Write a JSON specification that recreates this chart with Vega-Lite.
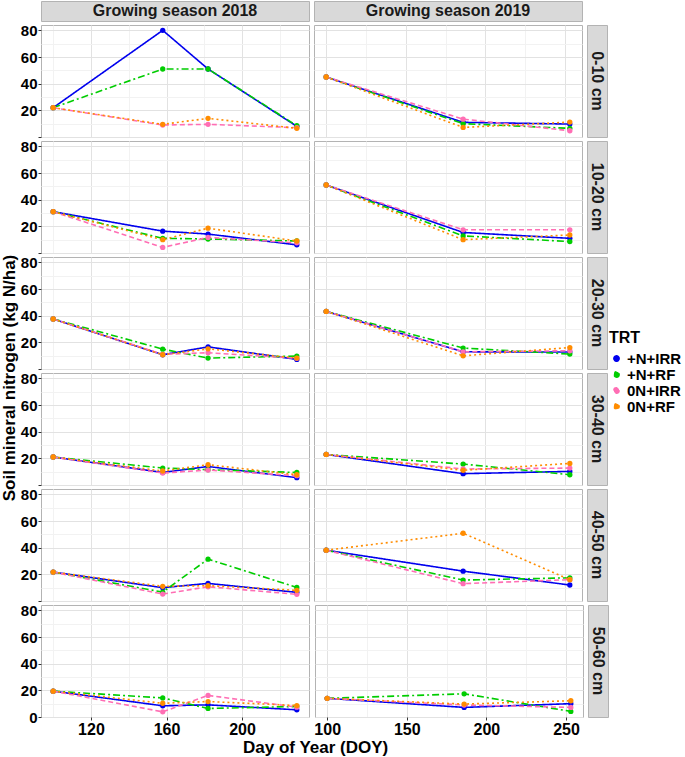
{
"$schema":"https://vega.github.io/schema/vega-lite/v6.json",
"padding":{"left":0,"right":1,"top":0,"bottom":0},
"background":"white",
"title":{"text":"Soil mineral nitrogen (kg N/ha)","orient":"left","anchor":"middle","fontSize":17,"font":"Liberation Sans","fontWeight":"bold","color":"#000000","offset":1},
"data":{"values":[
{"s":"2018","d":"0-10 cm","t":"+N+IRR","x":100,"n":22},{"s":"2018","d":"0-10 cm","t":"+N+IRR","x":158,"n":80},{"s":"2018","d":"0-10 cm","t":"+N+IRR","x":182,"n":51},{"s":"2018","d":"0-10 cm","t":"+N+IRR","x":229,"n":8},
{"s":"2018","d":"0-10 cm","t":"+N+RF","x":100,"n":22},{"s":"2018","d":"0-10 cm","t":"+N+RF","x":158,"n":51},{"s":"2018","d":"0-10 cm","t":"+N+RF","x":182,"n":51},{"s":"2018","d":"0-10 cm","t":"+N+RF","x":229,"n":8.5},
{"s":"2018","d":"0-10 cm","t":"0N+IRR","x":100,"n":22},{"s":"2018","d":"0-10 cm","t":"0N+IRR","x":158,"n":9},{"s":"2018","d":"0-10 cm","t":"0N+IRR","x":182,"n":9.5},{"s":"2018","d":"0-10 cm","t":"0N+IRR","x":229,"n":7},
{"s":"2018","d":"0-10 cm","t":"0N+RF","x":100,"n":22},{"s":"2018","d":"0-10 cm","t":"0N+RF","x":158,"n":9.5},{"s":"2018","d":"0-10 cm","t":"0N+RF","x":182,"n":14},{"s":"2018","d":"0-10 cm","t":"0N+RF","x":229,"n":6.5},
{"s":"2019","d":"0-10 cm","t":"+N+IRR","x":100,"n":45},{"s":"2019","d":"0-10 cm","t":"+N+IRR","x":186,"n":11},{"s":"2019","d":"0-10 cm","t":"+N+IRR","x":253,"n":9.7},
{"s":"2019","d":"0-10 cm","t":"+N+RF","x":100,"n":45},{"s":"2019","d":"0-10 cm","t":"+N+RF","x":186,"n":10},{"s":"2019","d":"0-10 cm","t":"+N+RF","x":253,"n":6.5},
{"s":"2019","d":"0-10 cm","t":"0N+IRR","x":100,"n":45},{"s":"2019","d":"0-10 cm","t":"0N+IRR","x":186,"n":13.4},{"s":"2019","d":"0-10 cm","t":"0N+IRR","x":253,"n":4.7},
{"s":"2019","d":"0-10 cm","t":"0N+RF","x":100,"n":45},{"s":"2019","d":"0-10 cm","t":"0N+RF","x":186,"n":7.2},{"s":"2019","d":"0-10 cm","t":"0N+RF","x":253,"n":11.2},

{"s":"2018","d":"10-20 cm","t":"+N+IRR","x":100,"n":31},{"s":"2018","d":"10-20 cm","t":"+N+IRR","x":158,"n":16.4},{"s":"2018","d":"10-20 cm","t":"+N+IRR","x":182,"n":14.2},{"s":"2018","d":"10-20 cm","t":"+N+IRR","x":229,"n":6.1},
{"s":"2018","d":"10-20 cm","t":"+N+RF","x":100,"n":31},{"s":"2018","d":"10-20 cm","t":"+N+RF","x":158,"n":11},{"s":"2018","d":"10-20 cm","t":"+N+RF","x":182,"n":10.5},{"s":"2018","d":"10-20 cm","t":"+N+RF","x":229,"n":9},
{"s":"2018","d":"10-20 cm","t":"0N+IRR","x":100,"n":31},{"s":"2018","d":"10-20 cm","t":"0N+IRR","x":158,"n":4.2},{"s":"2018","d":"10-20 cm","t":"0N+IRR","x":182,"n":11.7},{"s":"2018","d":"10-20 cm","t":"0N+IRR","x":229,"n":7.6},
{"s":"2018","d":"10-20 cm","t":"0N+RF","x":100,"n":31},{"s":"2018","d":"10-20 cm","t":"0N+RF","x":158,"n":10},{"s":"2018","d":"10-20 cm","t":"0N+RF","x":182,"n":18.6},{"s":"2018","d":"10-20 cm","t":"0N+RF","x":229,"n":9},
{"s":"2019","d":"10-20 cm","t":"+N+IRR","x":100,"n":51},{"s":"2019","d":"10-20 cm","t":"+N+IRR","x":186,"n":15.4},{"s":"2019","d":"10-20 cm","t":"+N+IRR","x":253,"n":11},
{"s":"2019","d":"10-20 cm","t":"+N+RF","x":100,"n":51},{"s":"2019","d":"10-20 cm","t":"+N+RF","x":186,"n":12.8},{"s":"2019","d":"10-20 cm","t":"+N+RF","x":253,"n":8.6},
{"s":"2019","d":"10-20 cm","t":"0N+IRR","x":100,"n":51},{"s":"2019","d":"10-20 cm","t":"0N+IRR","x":186,"n":17.4},{"s":"2019","d":"10-20 cm","t":"0N+IRR","x":253,"n":17.4},
{"s":"2019","d":"10-20 cm","t":"0N+RF","x":100,"n":51},{"s":"2019","d":"10-20 cm","t":"0N+RF","x":186,"n":10},{"s":"2019","d":"10-20 cm","t":"0N+RF","x":253,"n":13.5},

{"s":"2018","d":"20-30 cm","t":"+N+IRR","x":100,"n":37.5},{"s":"2018","d":"20-30 cm","t":"+N+IRR","x":158,"n":10.7},{"s":"2018","d":"20-30 cm","t":"+N+IRR","x":182,"n":16.6},{"s":"2018","d":"20-30 cm","t":"+N+IRR","x":229,"n":7.2},
{"s":"2018","d":"20-30 cm","t":"+N+RF","x":100,"n":37.5},{"s":"2018","d":"20-30 cm","t":"+N+RF","x":158,"n":14.9},{"s":"2018","d":"20-30 cm","t":"+N+RF","x":182,"n":8.2},{"s":"2018","d":"20-30 cm","t":"+N+RF","x":229,"n":9.7},
{"s":"2018","d":"20-30 cm","t":"0N+IRR","x":100,"n":37.5},{"s":"2018","d":"20-30 cm","t":"0N+IRR","x":158,"n":11},{"s":"2018","d":"20-30 cm","t":"0N+IRR","x":182,"n":12.2},{"s":"2018","d":"20-30 cm","t":"0N+IRR","x":229,"n":8},
{"s":"2018","d":"20-30 cm","t":"0N+RF","x":100,"n":37.5},{"s":"2018","d":"20-30 cm","t":"0N+RF","x":158,"n":10.7},{"s":"2018","d":"20-30 cm","t":"0N+RF","x":182,"n":15.1},{"s":"2018","d":"20-30 cm","t":"0N+RF","x":229,"n":8.2},
{"s":"2019","d":"20-30 cm","t":"+N+IRR","x":100,"n":43.2},{"s":"2019","d":"20-30 cm","t":"+N+IRR","x":186,"n":12.9},{"s":"2019","d":"20-30 cm","t":"+N+IRR","x":253,"n":12.7},
{"s":"2019","d":"20-30 cm","t":"+N+RF","x":100,"n":43.2},{"s":"2019","d":"20-30 cm","t":"+N+RF","x":186,"n":15.7},{"s":"2019","d":"20-30 cm","t":"+N+RF","x":253,"n":11.2},
{"s":"2019","d":"20-30 cm","t":"0N+IRR","x":100,"n":43.2},{"s":"2019","d":"20-30 cm","t":"0N+IRR","x":186,"n":12.9},{"s":"2019","d":"20-30 cm","t":"0N+IRR","x":253,"n":13.7},
{"s":"2019","d":"20-30 cm","t":"0N+RF","x":100,"n":43.2},{"s":"2019","d":"20-30 cm","t":"0N+RF","x":186,"n":9.9},{"s":"2019","d":"20-30 cm","t":"0N+RF","x":253,"n":16.1},

{"s":"2018","d":"30-40 cm","t":"+N+IRR","x":100,"n":21},{"s":"2018","d":"30-40 cm","t":"+N+IRR","x":158,"n":9.4},{"s":"2018","d":"30-40 cm","t":"+N+IRR","x":182,"n":13.9},{"s":"2018","d":"30-40 cm","t":"+N+IRR","x":229,"n":5.5},
{"s":"2018","d":"30-40 cm","t":"+N+RF","x":100,"n":21},{"s":"2018","d":"30-40 cm","t":"+N+RF","x":158,"n":12.7},{"s":"2018","d":"30-40 cm","t":"+N+RF","x":182,"n":11.5},{"s":"2018","d":"30-40 cm","t":"+N+RF","x":229,"n":9.4},
{"s":"2018","d":"30-40 cm","t":"0N+IRR","x":100,"n":21},{"s":"2018","d":"30-40 cm","t":"0N+IRR","x":158,"n":9},{"s":"2018","d":"30-40 cm","t":"0N+IRR","x":182,"n":11.2},{"s":"2018","d":"30-40 cm","t":"0N+IRR","x":229,"n":7},
{"s":"2018","d":"30-40 cm","t":"0N+RF","x":100,"n":21},{"s":"2018","d":"30-40 cm","t":"0N+RF","x":158,"n":10.5},{"s":"2018","d":"30-40 cm","t":"0N+RF","x":182,"n":15.2},{"s":"2018","d":"30-40 cm","t":"0N+RF","x":229,"n":7.7},
{"s":"2019","d":"30-40 cm","t":"+N+IRR","x":100,"n":22.9},{"s":"2019","d":"30-40 cm","t":"+N+IRR","x":186,"n":8.5},{"s":"2019","d":"30-40 cm","t":"+N+IRR","x":253,"n":10.2},
{"s":"2019","d":"30-40 cm","t":"+N+RF","x":100,"n":22.9},{"s":"2019","d":"30-40 cm","t":"+N+RF","x":186,"n":15.7},{"s":"2019","d":"30-40 cm","t":"+N+RF","x":253,"n":7.7},
{"s":"2019","d":"30-40 cm","t":"0N+IRR","x":100,"n":22.9},{"s":"2019","d":"30-40 cm","t":"0N+IRR","x":186,"n":12},{"s":"2019","d":"30-40 cm","t":"0N+IRR","x":253,"n":12.7},
{"s":"2019","d":"30-40 cm","t":"0N+RF","x":100,"n":22.9},{"s":"2019","d":"30-40 cm","t":"0N+RF","x":186,"n":11},{"s":"2019","d":"30-40 cm","t":"0N+RF","x":253,"n":16.2},

{"s":"2018","d":"40-50 cm","t":"+N+IRR","x":100,"n":21.7},{"s":"2018","d":"40-50 cm","t":"+N+IRR","x":158,"n":10},{"s":"2018","d":"40-50 cm","t":"+N+IRR","x":182,"n":13.2},{"s":"2018","d":"40-50 cm","t":"+N+IRR","x":229,"n":6.5},
{"s":"2018","d":"40-50 cm","t":"+N+RF","x":100,"n":21.7},{"s":"2018","d":"40-50 cm","t":"+N+RF","x":158,"n":6.7},{"s":"2018","d":"40-50 cm","t":"+N+RF","x":182,"n":31.4},{"s":"2018","d":"40-50 cm","t":"+N+RF","x":229,"n":10.2},
{"s":"2018","d":"40-50 cm","t":"0N+IRR","x":100,"n":21.7},{"s":"2018","d":"40-50 cm","t":"0N+IRR","x":158,"n":5.2},{"s":"2018","d":"40-50 cm","t":"0N+IRR","x":182,"n":10.7},{"s":"2018","d":"40-50 cm","t":"0N+IRR","x":229,"n":5},
{"s":"2018","d":"40-50 cm","t":"0N+RF","x":100,"n":21.7},{"s":"2018","d":"40-50 cm","t":"0N+RF","x":158,"n":11},{"s":"2018","d":"40-50 cm","t":"0N+RF","x":182,"n":11.5},{"s":"2018","d":"40-50 cm","t":"0N+RF","x":229,"n":8},
{"s":"2019","d":"40-50 cm","t":"+N+IRR","x":100,"n":38.1},{"s":"2019","d":"40-50 cm","t":"+N+IRR","x":186,"n":22.4},{"s":"2019","d":"40-50 cm","t":"+N+IRR","x":253,"n":12},
{"s":"2019","d":"40-50 cm","t":"+N+RF","x":100,"n":38.1},{"s":"2019","d":"40-50 cm","t":"+N+RF","x":186,"n":15.7},{"s":"2019","d":"40-50 cm","t":"+N+RF","x":253,"n":17.4},
{"s":"2019","d":"40-50 cm","t":"0N+IRR","x":100,"n":38.1},{"s":"2019","d":"40-50 cm","t":"0N+IRR","x":186,"n":13},{"s":"2019","d":"40-50 cm","t":"0N+IRR","x":253,"n":16},
{"s":"2019","d":"40-50 cm","t":"0N+RF","x":100,"n":38.1},{"s":"2019","d":"40-50 cm","t":"0N+RF","x":186,"n":50.8},{"s":"2019","d":"40-50 cm","t":"0N+RF","x":253,"n":16},

{"s":"2018","d":"50-60 cm","t":"+N+IRR","x":100,"n":19.4},{"s":"2018","d":"50-60 cm","t":"+N+IRR","x":158,"n":8.4},{"s":"2018","d":"50-60 cm","t":"+N+IRR","x":182,"n":9.1},{"s":"2018","d":"50-60 cm","t":"+N+IRR","x":229,"n":5.4},
{"s":"2018","d":"50-60 cm","t":"+N+RF","x":100,"n":19.4},{"s":"2018","d":"50-60 cm","t":"+N+RF","x":158,"n":14.3},{"s":"2018","d":"50-60 cm","t":"+N+RF","x":182,"n":6.4},{"s":"2018","d":"50-60 cm","t":"+N+RF","x":229,"n":7.9},
{"s":"2018","d":"50-60 cm","t":"0N+IRR","x":100,"n":19.4},{"s":"2018","d":"50-60 cm","t":"0N+IRR","x":158,"n":3.9},{"s":"2018","d":"50-60 cm","t":"0N+IRR","x":182,"n":16.2},{"s":"2018","d":"50-60 cm","t":"0N+IRR","x":229,"n":7.4},
{"s":"2018","d":"50-60 cm","t":"0N+RF","x":100,"n":19.4},{"s":"2018","d":"50-60 cm","t":"0N+RF","x":158,"n":10.3},{"s":"2018","d":"50-60 cm","t":"0N+RF","x":182,"n":11.6},{"s":"2018","d":"50-60 cm","t":"0N+RF","x":229,"n":8.6},
{"s":"2019","d":"50-60 cm","t":"+N+IRR","x":100,"n":14},{"s":"2019","d":"50-60 cm","t":"+N+IRR","x":186,"n":7.2},{"s":"2019","d":"50-60 cm","t":"+N+IRR","x":253,"n":10},
{"s":"2019","d":"50-60 cm","t":"+N+RF","x":100,"n":14},{"s":"2019","d":"50-60 cm","t":"+N+RF","x":186,"n":17.4},{"s":"2019","d":"50-60 cm","t":"+N+RF","x":253,"n":4.2},
{"s":"2019","d":"50-60 cm","t":"0N+IRR","x":100,"n":14},{"s":"2019","d":"50-60 cm","t":"0N+IRR","x":186,"n":9},{"s":"2019","d":"50-60 cm","t":"0N+IRR","x":253,"n":7.2},
{"s":"2019","d":"50-60 cm","t":"0N+RF","x":100,"n":14},{"s":"2019","d":"50-60 cm","t":"0N+RF","x":186,"n":9.7},{"s":"2019","d":"50-60 cm","t":"0N+RF","x":253,"n":12.2}
]},
"spacing":0,
"vconcat":[
{"hconcat":[
 {"width":268,"height":20,"data":{"values":[{"lab":"Growing season 2018"}]},"mark":{"type":"text","font":"Liberation Sans","fontSize":16,"fontWeight":"bold","color":"#1a1a1a"},"encoding":{"text":{"field":"lab","type":"nominal"},"y":{"datum":42,"type":"quantitative","scale":{"domain":[0,84],"nice":false,"zero":false},"axis":{"values":[42],"labelExpr":"'80'","labelColor":"transparent","tickColor":"transparent","grid":false,"title":null}}},"view":{"fill":"#d9d9d9","stroke":"#b3b3b3"}},
 {"width":268,"height":20,"data":{"values":[{"lab":"Growing season 2019"}]},"mark":{"type":"text","font":"Liberation Sans","fontSize":16,"fontWeight":"bold","color":"#1a1a1a"},"encoding":{"text":{"field":"lab","type":"nominal"}},"view":{"fill":"#d9d9d9","stroke":"#b3b3b3"}}
],"spacing":3},

{"hconcat":[
 {"width":268,"height":112,"transform":[{"filter":"datum.s==='2018' && datum.d==='0-10 cm'"}],"encoding":{"x":{"field":"x","type":"quantitative","scale":{"domain":[93.55,235.45],"nice":false,"zero":false},"axis":{"values":[100,120,140,160,180,200,220],"title":null,"labels":false,"ticks":false,"minExtent":0,"maxExtent":0,"gridColor":{"condition":{"test":"datum.value % 40 === 0","value":"#e2e2e2"},"value":"#f2f2f2"}}},"y":{"field":"n","type":"quantitative","scale":{"domain":[0,84],"nice":false,"zero":false},"axis":{"values":[0,10,20,30,40,50,60,70,80],"title":null,"labelExpr":"datum.value % 20 === 0 && datum.value > 0 ? datum.label : ''","tickColor":{"condition":{"test":"datum.value % 20 === 0","value":"#333333"},"value":"transparent"},"gridColor":{"condition":{"test":"datum.value % 20 === 0","value":"#e2e2e2"},"value":"#f2f2f2"}}},"color":{"field":"t","type":"nominal","scale":{"domain":["+N+IRR","+N+RF","0N+IRR","0N+RF"],"range":["#0000EE","#00CD00","#FF6EB4","#FF8C00"]},"legend":{"title":"TRT","orient":"none","legendX":568,"legendY":329,"symbolType":"circle"}}},"layer":[{"mark":{"type":"line","strokeWidth":1.6},"encoding":{"strokeDash":{"field":"t","type":"nominal","scale":{"domain":["+N+IRR","+N+RF","0N+IRR","0N+RF"],"range":[[1,0],[7,3,2,3],[5,3],[2,3]]},"legend":null}}},{"mark":{"type":"circle","size":28,"opacity":1}}]},
 {"width":268,"height":112,"transform":[{"filter":"datum.s==='2019' && datum.d==='0-10 cm'"}],"encoding":{"x":{"field":"x","type":"quantitative","scale":{"domain":[92.35,260.65],"nice":false,"zero":false},"axis":{"values":[100,125,150,175,200,225,250],"title":null,"labels":false,"ticks":false,"minExtent":0,"maxExtent":0,"gridColor":{"condition":{"test":"datum.value % 50 === 0","value":"#e2e2e2"},"value":"#f2f2f2"}}},"y":{"field":"n","type":"quantitative","scale":{"domain":[0,84],"nice":false,"zero":false},"axis":{"values":[0,10,20,30,40,50,60,70,80],"title":null,"labels":false,"ticks":false,"gridColor":{"condition":{"test":"datum.value % 20 === 0","value":"#e2e2e2"},"value":"#f2f2f2"}}},"color":{"field":"t","type":"nominal"}},"layer":[{"mark":{"type":"line","strokeWidth":1.6},"encoding":{"strokeDash":{"field":"t","type":"nominal","legend":null}}},{"mark":{"type":"circle","size":28,"opacity":1}}]},
 {"width":20,"height":112,"data":{"values":[{"lab":"0-10 cm"}]},"mark":{"type":"text","angle":90,"font":"Liberation Sans","fontSize":16,"fontWeight":"bold","color":"#1a1a1a"},"encoding":{"text":{"field":"lab","type":"nominal"}},"view":{"fill":"#d9d9d9","stroke":"#b3b3b3"}}
],"spacing":3},

{"hconcat":[
 {"width":268,"height":112,"transform":[{"filter":"datum.s==='2018' && datum.d==='10-20 cm'"}],"encoding":{"x":{"field":"x","type":"quantitative","scale":{"domain":[93.55,235.45],"nice":false,"zero":false},"axis":{"values":[100,120,140,160,180,200,220],"title":null,"labels":false,"ticks":false,"minExtent":0,"maxExtent":0,"gridColor":{"condition":{"test":"datum.value % 40 === 0","value":"#e2e2e2"},"value":"#f2f2f2"}}},"y":{"field":"n","type":"quantitative","scale":{"domain":[0,84],"nice":false,"zero":false},"axis":{"values":[0,10,20,30,40,50,60,70,80],"title":null,"labelExpr":"datum.value % 20 === 0 && datum.value > 0 ? datum.label : ''","tickColor":{"condition":{"test":"datum.value % 20 === 0","value":"#333333"},"value":"transparent"},"gridColor":{"condition":{"test":"datum.value % 20 === 0","value":"#e2e2e2"},"value":"#f2f2f2"}}},"color":{"field":"t","type":"nominal"}},"layer":[{"mark":{"type":"line","strokeWidth":1.6},"encoding":{"strokeDash":{"field":"t","type":"nominal","legend":null}}},{"mark":{"type":"circle","size":28,"opacity":1}}]},
 {"width":268,"height":112,"transform":[{"filter":"datum.s==='2019' && datum.d==='10-20 cm'"}],"encoding":{"x":{"field":"x","type":"quantitative","scale":{"domain":[92.35,260.65],"nice":false,"zero":false},"axis":{"values":[100,125,150,175,200,225,250],"title":null,"labels":false,"ticks":false,"minExtent":0,"maxExtent":0,"gridColor":{"condition":{"test":"datum.value % 50 === 0","value":"#e2e2e2"},"value":"#f2f2f2"}}},"y":{"field":"n","type":"quantitative","scale":{"domain":[0,84],"nice":false,"zero":false},"axis":{"values":[0,10,20,30,40,50,60,70,80],"title":null,"labels":false,"ticks":false,"gridColor":{"condition":{"test":"datum.value % 20 === 0","value":"#e2e2e2"},"value":"#f2f2f2"}}},"color":{"field":"t","type":"nominal"}},"layer":[{"mark":{"type":"line","strokeWidth":1.6},"encoding":{"strokeDash":{"field":"t","type":"nominal","legend":null}}},{"mark":{"type":"circle","size":28,"opacity":1}}]},
 {"width":20,"height":112,"data":{"values":[{"lab":"10-20 cm"}]},"mark":{"type":"text","angle":90,"font":"Liberation Sans","fontSize":16,"fontWeight":"bold","color":"#1a1a1a"},"encoding":{"text":{"field":"lab","type":"nominal"}},"view":{"fill":"#d9d9d9","stroke":"#b3b3b3"}}
],"spacing":3},

{"hconcat":[
 {"width":268,"height":112,"transform":[{"filter":"datum.s==='2018' && datum.d==='20-30 cm'"}],"encoding":{"x":{"field":"x","type":"quantitative","scale":{"domain":[93.55,235.45],"nice":false,"zero":false},"axis":{"values":[100,120,140,160,180,200,220],"title":null,"labels":false,"ticks":false,"minExtent":0,"maxExtent":0,"gridColor":{"condition":{"test":"datum.value % 40 === 0","value":"#e2e2e2"},"value":"#f2f2f2"}}},"y":{"field":"n","type":"quantitative","scale":{"domain":[0,84],"nice":false,"zero":false},"axis":{"values":[0,10,20,30,40,50,60,70,80],"title":null,"labelExpr":"datum.value % 20 === 0 && datum.value > 0 ? datum.label : ''","tickColor":{"condition":{"test":"datum.value % 20 === 0","value":"#333333"},"value":"transparent"},"gridColor":{"condition":{"test":"datum.value % 20 === 0","value":"#e2e2e2"},"value":"#f2f2f2"}}},"color":{"field":"t","type":"nominal"}},"layer":[{"mark":{"type":"line","strokeWidth":1.6},"encoding":{"strokeDash":{"field":"t","type":"nominal","legend":null}}},{"mark":{"type":"circle","size":28,"opacity":1}}]},
 {"width":268,"height":112,"transform":[{"filter":"datum.s==='2019' && datum.d==='20-30 cm'"}],"encoding":{"x":{"field":"x","type":"quantitative","scale":{"domain":[92.35,260.65],"nice":false,"zero":false},"axis":{"values":[100,125,150,175,200,225,250],"title":null,"labels":false,"ticks":false,"minExtent":0,"maxExtent":0,"gridColor":{"condition":{"test":"datum.value % 50 === 0","value":"#e2e2e2"},"value":"#f2f2f2"}}},"y":{"field":"n","type":"quantitative","scale":{"domain":[0,84],"nice":false,"zero":false},"axis":{"values":[0,10,20,30,40,50,60,70,80],"title":null,"labels":false,"ticks":false,"gridColor":{"condition":{"test":"datum.value % 20 === 0","value":"#e2e2e2"},"value":"#f2f2f2"}}},"color":{"field":"t","type":"nominal"}},"layer":[{"mark":{"type":"line","strokeWidth":1.6},"encoding":{"strokeDash":{"field":"t","type":"nominal","legend":null}}},{"mark":{"type":"circle","size":28,"opacity":1}}]},
 {"width":20,"height":112,"data":{"values":[{"lab":"20-30 cm"}]},"mark":{"type":"text","angle":90,"font":"Liberation Sans","fontSize":16,"fontWeight":"bold","color":"#1a1a1a"},"encoding":{"text":{"field":"lab","type":"nominal"}},"view":{"fill":"#d9d9d9","stroke":"#b3b3b3"}}
],"spacing":3},

{"hconcat":[
 {"width":268,"height":112,"transform":[{"filter":"datum.s==='2018' && datum.d==='30-40 cm'"}],"encoding":{"x":{"field":"x","type":"quantitative","scale":{"domain":[93.55,235.45],"nice":false,"zero":false},"axis":{"values":[100,120,140,160,180,200,220],"title":null,"labels":false,"ticks":false,"minExtent":0,"maxExtent":0,"gridColor":{"condition":{"test":"datum.value % 40 === 0","value":"#e2e2e2"},"value":"#f2f2f2"}}},"y":{"field":"n","type":"quantitative","scale":{"domain":[0,84],"nice":false,"zero":false},"axis":{"values":[0,10,20,30,40,50,60,70,80],"title":null,"labelExpr":"datum.value % 20 === 0 && datum.value > 0 ? datum.label : ''","tickColor":{"condition":{"test":"datum.value % 20 === 0","value":"#333333"},"value":"transparent"},"gridColor":{"condition":{"test":"datum.value % 20 === 0","value":"#e2e2e2"},"value":"#f2f2f2"}}},"color":{"field":"t","type":"nominal"}},"layer":[{"mark":{"type":"line","strokeWidth":1.6},"encoding":{"strokeDash":{"field":"t","type":"nominal","legend":null}}},{"mark":{"type":"circle","size":28,"opacity":1}}]},
 {"width":268,"height":112,"transform":[{"filter":"datum.s==='2019' && datum.d==='30-40 cm'"}],"encoding":{"x":{"field":"x","type":"quantitative","scale":{"domain":[92.35,260.65],"nice":false,"zero":false},"axis":{"values":[100,125,150,175,200,225,250],"title":null,"labels":false,"ticks":false,"minExtent":0,"maxExtent":0,"gridColor":{"condition":{"test":"datum.value % 50 === 0","value":"#e2e2e2"},"value":"#f2f2f2"}}},"y":{"field":"n","type":"quantitative","scale":{"domain":[0,84],"nice":false,"zero":false},"axis":{"values":[0,10,20,30,40,50,60,70,80],"title":null,"labels":false,"ticks":false,"gridColor":{"condition":{"test":"datum.value % 20 === 0","value":"#e2e2e2"},"value":"#f2f2f2"}}},"color":{"field":"t","type":"nominal"}},"layer":[{"mark":{"type":"line","strokeWidth":1.6},"encoding":{"strokeDash":{"field":"t","type":"nominal","legend":null}}},{"mark":{"type":"circle","size":28,"opacity":1}}]},
 {"width":20,"height":112,"data":{"values":[{"lab":"30-40 cm"}]},"mark":{"type":"text","angle":90,"font":"Liberation Sans","fontSize":16,"fontWeight":"bold","color":"#1a1a1a"},"encoding":{"text":{"field":"lab","type":"nominal"}},"view":{"fill":"#d9d9d9","stroke":"#b3b3b3"}}
],"spacing":3},

{"hconcat":[
 {"width":268,"height":112,"transform":[{"filter":"datum.s==='2018' && datum.d==='40-50 cm'"}],"encoding":{"x":{"field":"x","type":"quantitative","scale":{"domain":[93.55,235.45],"nice":false,"zero":false},"axis":{"values":[100,120,140,160,180,200,220],"title":null,"labels":false,"ticks":false,"minExtent":0,"maxExtent":0,"gridColor":{"condition":{"test":"datum.value % 40 === 0","value":"#e2e2e2"},"value":"#f2f2f2"}}},"y":{"field":"n","type":"quantitative","scale":{"domain":[0,84],"nice":false,"zero":false},"axis":{"values":[0,10,20,30,40,50,60,70,80],"title":null,"labelExpr":"datum.value % 20 === 0 && datum.value > 0 ? datum.label : ''","tickColor":{"condition":{"test":"datum.value % 20 === 0","value":"#333333"},"value":"transparent"},"gridColor":{"condition":{"test":"datum.value % 20 === 0","value":"#e2e2e2"},"value":"#f2f2f2"}}},"color":{"field":"t","type":"nominal"}},"layer":[{"mark":{"type":"line","strokeWidth":1.6},"encoding":{"strokeDash":{"field":"t","type":"nominal","legend":null}}},{"mark":{"type":"circle","size":28,"opacity":1}}]},
 {"width":268,"height":112,"transform":[{"filter":"datum.s==='2019' && datum.d==='40-50 cm'"}],"encoding":{"x":{"field":"x","type":"quantitative","scale":{"domain":[92.35,260.65],"nice":false,"zero":false},"axis":{"values":[100,125,150,175,200,225,250],"title":null,"labels":false,"ticks":false,"minExtent":0,"maxExtent":0,"gridColor":{"condition":{"test":"datum.value % 50 === 0","value":"#e2e2e2"},"value":"#f2f2f2"}}},"y":{"field":"n","type":"quantitative","scale":{"domain":[0,84],"nice":false,"zero":false},"axis":{"values":[0,10,20,30,40,50,60,70,80],"title":null,"labels":false,"ticks":false,"gridColor":{"condition":{"test":"datum.value % 20 === 0","value":"#e2e2e2"},"value":"#f2f2f2"}}},"color":{"field":"t","type":"nominal"}},"layer":[{"mark":{"type":"line","strokeWidth":1.6},"encoding":{"strokeDash":{"field":"t","type":"nominal","legend":null}}},{"mark":{"type":"circle","size":28,"opacity":1}}]},
 {"width":20,"height":112,"data":{"values":[{"lab":"40-50 cm"}]},"mark":{"type":"text","angle":90,"font":"Liberation Sans","fontSize":16,"fontWeight":"bold","color":"#1a1a1a"},"encoding":{"text":{"field":"lab","type":"nominal"}},"view":{"fill":"#d9d9d9","stroke":"#b3b3b3"}}
],"spacing":3},

{"hconcat":[
 {"hconcat":[
  {"width":268,"height":112,"transform":[{"filter":"datum.s==='2018' && datum.d==='50-60 cm'"}],"encoding":{"x":{"field":"x","type":"quantitative","scale":{"domain":[93.55,235.45],"nice":false,"zero":false},"axis":{"values":[100,120,140,160,180,200,220],"title":null,"labelExpr":"datum.value % 40 === 0 ? datum.label : ''","tickColor":{"condition":{"test":"datum.value % 40 === 0","value":"#333333"},"value":"transparent"},"gridColor":{"condition":{"test":"datum.value % 40 === 0","value":"#e2e2e2"},"value":"#f2f2f2"}}},"y":{"field":"n","type":"quantitative","scale":{"domain":[0,84],"nice":false,"zero":false},"axis":{"values":[0,10,20,30,40,50,60,70,80],"title":null,"labelExpr":"datum.value % 20 === 0 ? datum.label : ''","tickColor":{"condition":{"test":"datum.value % 20 === 0","value":"#333333"},"value":"transparent"},"gridColor":{"condition":{"test":"datum.value % 20 === 0","value":"#e2e2e2"},"value":"#f2f2f2"}}},"color":{"field":"t","type":"nominal"}},"layer":[{"mark":{"type":"line","strokeWidth":1.6},"encoding":{"strokeDash":{"field":"t","type":"nominal","legend":null}}},{"mark":{"type":"circle","size":28,"opacity":1}}]},
  {"width":268,"height":112,"transform":[{"filter":"datum.s==='2019' && datum.d==='50-60 cm'"}],"encoding":{"x":{"field":"x","type":"quantitative","scale":{"domain":[92.35,260.65],"nice":false,"zero":false},"axis":{"values":[100,125,150,175,200,225,250],"title":null,"labelExpr":"datum.value % 50 === 0 ? datum.label : ''","tickColor":{"condition":{"test":"datum.value % 50 === 0","value":"#333333"},"value":"transparent"},"gridColor":{"condition":{"test":"datum.value % 50 === 0","value":"#e2e2e2"},"value":"#f2f2f2"}}},"y":{"field":"n","type":"quantitative","scale":{"domain":[0,84],"nice":false,"zero":false},"axis":{"values":[0,10,20,30,40,50,60,70,80],"title":null,"labels":false,"ticks":false,"gridColor":{"condition":{"test":"datum.value % 20 === 0","value":"#e2e2e2"},"value":"#f2f2f2"}}},"color":{"field":"t","type":"nominal"}},"layer":[{"mark":{"type":"line","strokeWidth":1.6},"encoding":{"strokeDash":{"field":"t","type":"nominal","legend":null}}},{"mark":{"type":"circle","size":28,"opacity":1}}]}
 ],"spacing":3,"title":{"text":"Day of Year (DOY)","orient":"bottom","anchor":"middle","fontSize":17,"font":"Liberation Sans","fontWeight":"bold","color":"#000000","offset":2,"dx":14}},
 {"width":20,"height":112,"data":{"values":[{"lab":"50-60 cm"}]},"mark":{"type":"text","angle":90,"font":"Liberation Sans","fontSize":16,"fontWeight":"bold","color":"#1a1a1a"},"encoding":{"text":{"field":"lab","type":"nominal"}},"view":{"fill":"#d9d9d9","stroke":"#b3b3b3"}}
],"spacing":3}
],
"config":{
 "font":"Liberation Sans",
 "view":{"stroke":"#b3b3b3","strokeWidth":1},
 "axis":{"labelFont":"Liberation Sans","labelFontWeight":"bold","labelColor":"#000000","tickSize":3,"tickWidth":1,"domain":false,"gridWidth":1,"labelPadding":1},
 "axisX":{"labelFontSize":16},
 "axisY":{"labelFontSize":15},
 "legend":{"titleFont":"Liberation Sans","titleFontSize":16,"titleFontWeight":"bold","titleColor":"#000000","labelFont":"Liberation Sans","labelFontSize":15,"labelFontWeight":"bold","labelColor":"#000000","symbolSize":28,"symbolType":"circle","rowPadding":0,"labelOffset":3}
}
}
